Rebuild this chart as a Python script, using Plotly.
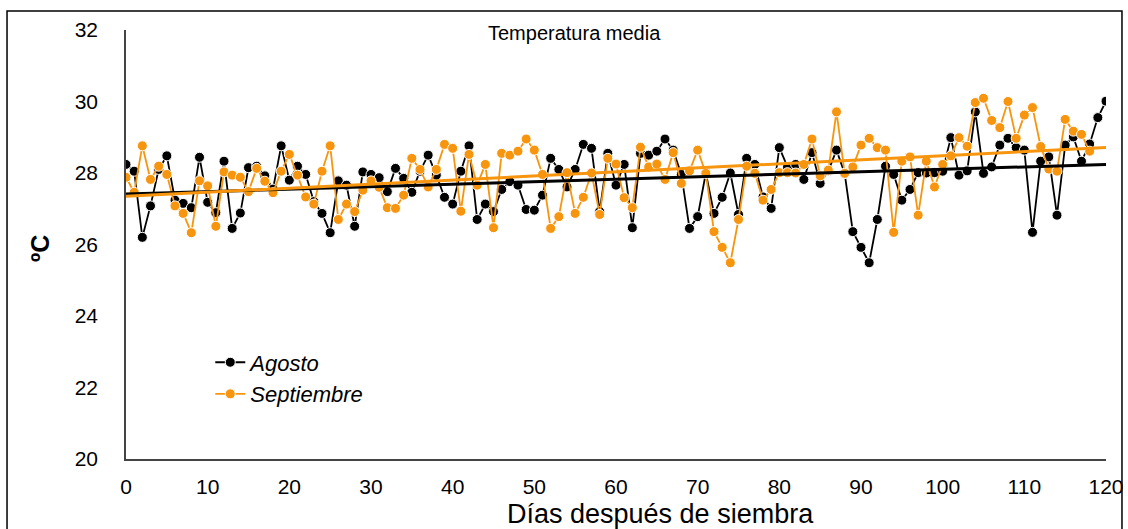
import plotly.graph_objects as go

days = list(range(0, 121))

agosto = [28.24, 28.05, 26.20, 27.08, 28.10, 28.48, 27.24, 27.15, 27.03, 28.44,
          27.18, 26.89, 28.33, 26.45, 26.88, 28.15, 28.19, 27.92, 27.55, 28.76,
          27.80, 28.19, 27.96, 27.20, 26.87, 26.33, 27.78, 27.66, 26.51, 28.03,
          27.96, 27.87, 27.48, 28.13, 27.85, 27.46, 28.05, 28.50, 27.94, 27.32,
          27.13, 28.05, 28.76, 26.70, 27.13, 26.92, 27.54, 27.76, 27.66, 26.98,
          26.96, 27.38, 28.41, 28.10, 27.61, 28.10, 28.80, 28.69, 26.92, 28.55,
          27.66, 28.24, 26.47, 28.55, 28.50, 28.61, 28.95, 28.64, 27.96, 26.45,
          26.78, 28.00, 26.87, 27.32, 28.00, 26.84, 28.41, 28.24, 27.33, 27.01,
          28.71, 28.17, 28.24, 27.82, 28.57, 27.71, 28.06, 28.64, 27.99, 26.36,
          25.92, 25.49, 26.70, 28.19, 27.96, 27.24, 27.54, 28.01, 28.00, 28.01,
          28.05, 28.99, 27.94, 28.06, 29.71, 27.99, 28.17, 28.78, 28.97, 28.71,
          28.64, 26.34, 28.33, 28.45, 26.82, 28.78, 29.01, 28.33, 28.81, 29.55,
          30.01]

septiembre = [27.88, 27.46, 28.76, 27.82, 28.19, 27.96, 27.08, 26.87, 26.33, 27.78,
              27.64, 26.51, 28.03, 27.94, 27.88, 27.48, 28.13, 27.77, 27.45, 28.05,
              28.52, 27.94, 27.33, 27.13, 28.05, 28.76, 26.70, 27.13, 26.92, 27.52,
              27.78, 27.60, 27.03, 27.01, 27.38, 28.41, 28.10, 27.61, 28.10, 28.80,
              28.69, 26.93, 28.52, 27.66, 28.24, 26.47, 28.55, 28.50, 28.61, 28.95,
              28.64, 27.96, 26.45, 26.78, 28.01, 26.87, 27.32, 28.00, 26.84, 28.41,
              28.25, 27.31, 27.03, 28.72, 28.17, 28.25, 27.82, 28.57, 27.71, 28.06,
              28.64, 27.99, 26.36, 25.92, 25.49, 26.70, 28.19, 27.99, 27.24, 27.54,
              28.01, 28.01, 28.00, 28.24, 28.95, 27.92, 28.08, 29.71, 27.99, 28.17,
              28.78, 28.97, 28.71, 28.64, 26.34, 28.33, 28.45, 26.82, 28.33, 27.61,
              28.24, 28.48, 28.99, 28.75, 29.97, 30.09, 29.47, 29.27, 30.00, 28.97,
              29.62, 29.83, 28.74, 28.11, 28.05, 29.50, 29.17, 29.08, 28.61]

trend_x = [0, 120]
trend_agosto = [27.41, 28.24]
trend_septiembre = [27.35, 28.71]

x_ticks = list(range(0, 121, 10))
y_ticks = list(range(20, 33, 2))

BLACK = "#000000"
ORANGE = "#F7950F"
FONT = "Liberation Sans, Arial, sans-serif"

fig = go.Figure()
fig.add_trace(go.Scatter(
    x=days[:len(agosto)], y=agosto, mode="lines+markers", name="Agosto",
    line=dict(color=BLACK, width=1.8),
    marker=dict(color=BLACK, size=10, line=dict(color="white", width=1)),
))
fig.add_trace(go.Scatter(
    x=days[:len(septiembre)], y=septiembre, mode="lines+markers", name="Septiembre",
    line=dict(color=ORANGE, width=1.8),
    marker=dict(color=ORANGE, size=10, line=dict(color="white", width=1)),
))
fig.add_trace(go.Scatter(
    x=trend_x, y=trend_agosto, mode="lines", showlegend=False,
    line=dict(color=BLACK, width=3), hoverinfo="skip",
))
fig.add_trace(go.Scatter(
    x=trend_x, y=trend_septiembre, mode="lines", showlegend=False,
    line=dict(color=ORANGE, width=3), hoverinfo="skip",
))

fig.update_layout(
    width=1128, height=529,
    margin=dict(l=126, r=22, t=30, b=70, autoexpand=False),
    paper_bgcolor="white", plot_bgcolor="white",
    font=dict(family=FONT, color="black"),
    showlegend=True,
    legend=dict(
        x=0.086, y=0.274, xanchor="left", yanchor="top",
        bgcolor="rgba(0,0,0,0)",
        font=dict(family=FONT, size=22, style="italic", color="black"),
        tracegroupgap=0,
    ),
    xaxis=dict(
        range=[0, 120], tickvals=x_ticks, ticktext=[str(v) for v in x_ticks],
        showgrid=False, zeroline=False, showline=True, automargin=False,
        linecolor="#444444", linewidth=1.5, ticks="",
        tickfont=dict(size=21, family=FONT, color="black"),
        ticklabelstandoff=8,
    ),
    yaxis=dict(
        range=[20, 32], tickvals=y_ticks, ticktext=[str(v) for v in y_ticks],
        showgrid=False, zeroline=False, showline=True, automargin=False,
        linecolor="#444444", linewidth=1.5, ticks="",
        tickfont=dict(size=21, family=FONT, color="black"),
        ticklabelstandoff=22,
    ),
    shapes=[dict(
        type="rect", xref="paper", yref="paper",
        x0=-0.1214, x1=1.0163, y0=-0.25, y1=1.0443,
        line=dict(color="black", width=1.5), fillcolor="rgba(0,0,0,0)",
        layer="below",
    )],
    annotations=[
        dict(text="Temperatura media", xref="paper", yref="paper",
             x=0.458, y=0.993, xanchor="center", yanchor="middle",
             showarrow=False, font=dict(size=20, family=FONT, color="black")),
        dict(text="Días después de siembra", xref="paper", yref="paper",
             x=0.545, y=-0.128, xanchor="center", yanchor="middle",
             showarrow=False, font=dict(size=27, family=FONT, color="black")),
        dict(text="ºC", xref="paper", yref="paper",
             x=-0.0878, y=0.492, xanchor="center", yanchor="middle",
             textangle=-90, showarrow=False,
             font=dict(size=25, family=FONT, color="black", weight="bold")),
    ],
)

fig.write_html("out.html")
